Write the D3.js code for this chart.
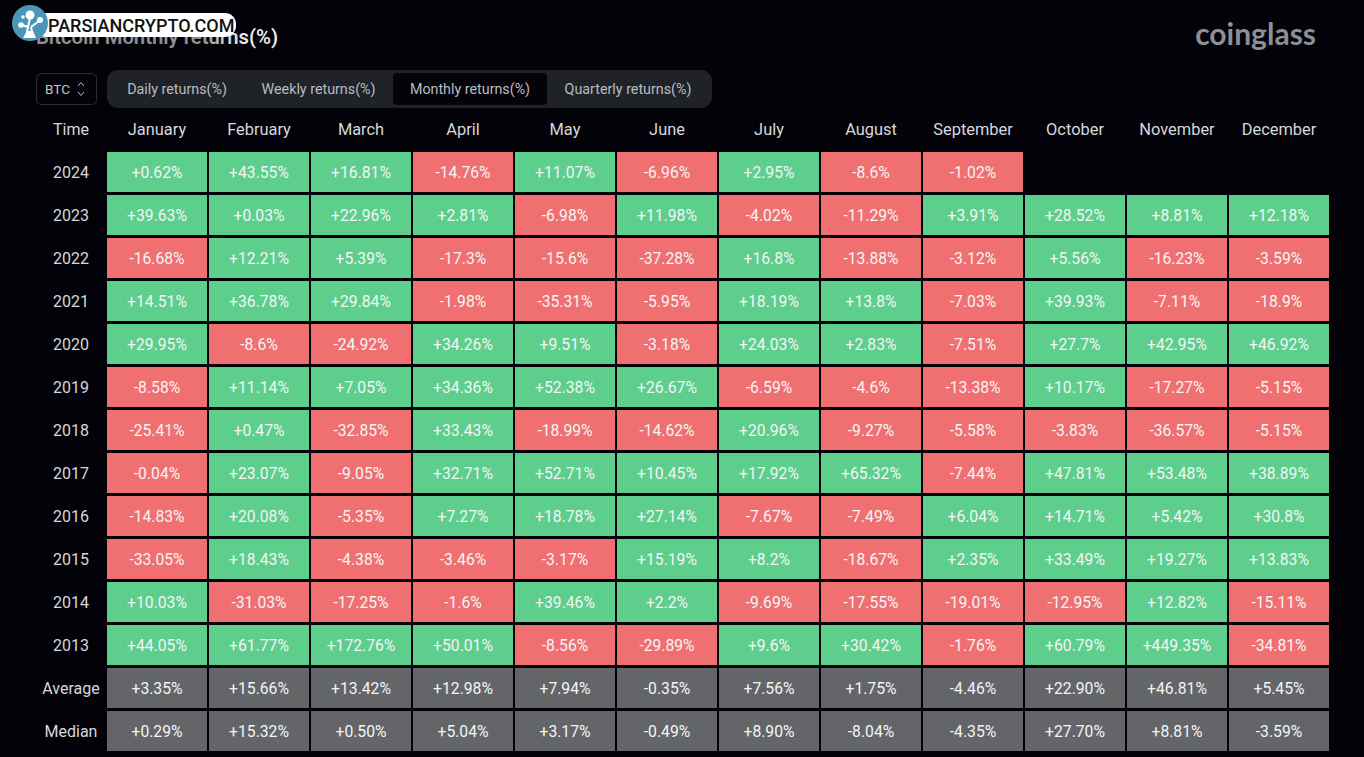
<!DOCTYPE html>
<html>
<head>
<meta charset="utf-8">
<title>Bitcoin Monthly returns(%)</title>
<script src="https://cdnjs.cloudflare.com/ajax/libs/d3/7.8.5/d3.min.js"></script>
<style>
    html, body { margin: 0; padding: 0; background: #020208; overflow: hidden; }
    svg { display: block; font-family: Roboto, sans-serif; }
    .axis .domain, .axis line { display: none; }
</style>
</head>
<body>
<script>
// data
var months = ['January', 'February', 'March', 'April', 'May', 'June', 'July', 'August', 'September', 'October', 'November', 'December'];
var rowNames = ['2024', '2023', '2022', '2021', '2020', '2019', '2018', '2017', '2016', '2015', '2014', '2013', 'Average', 'Median'];
var tabs = ['Daily returns(%)', 'Weekly returns(%)', 'Monthly returns(%)', 'Quarterly returns(%)'];

var r2024 = [0.62, 43.55, 16.81, -14.76, 11.07, -6.96, 2.95, -8.6, -1.02, null, null, null];
var r2023 = [39.63, 0.03, 22.96, 2.81, -6.98, 11.98, -4.02, -11.29, 3.91, 28.52, 8.81, 12.18];
var r2022 = [-16.68, 12.21, 5.39, -17.3, -15.6, -37.28, 16.8, -13.88, -3.12, 5.56, -16.23, -3.59];
var r2021 = [14.51, 36.78, 29.84, -1.98, -35.31, -5.95, 18.19, 13.8, -7.03, 39.93, -7.11, -18.9];
var r2020 = [29.95, -8.6, -24.92, 34.26, 9.51, -3.18, 24.03, 2.83, -7.51, 27.7, 42.95, 46.92];
var r2019 = [-8.58, 11.14, 7.05, 34.36, 52.38, 26.67, -6.59, -4.6, -13.38, 10.17, -17.27, -5.15];
var r2018 = [-25.41, 0.47, -32.85, 33.43, -18.99, -14.62, 20.96, -9.27, -5.58, -3.83, -36.57, -5.15];
var r2017 = [-0.04, 23.07, -9.05, 32.71, 52.71, 10.45, 17.92, 65.32, -7.44, 47.81, 53.48, 38.89];
var r2016 = [-14.83, 20.08, -5.35, 7.27, 18.78, 27.14, -7.67, -7.49, 6.04, 14.71, 5.42, 30.8];
var r2015 = [-33.05, 18.43, -4.38, -3.46, -3.17, 15.19, 8.2, -18.67, 2.35, 33.49, 19.27, 13.83];
var r2014 = [10.03, -31.03, -17.25, -1.6, 39.46, 2.2, -9.69, -17.55, -19.01, -12.95, 12.82, -15.11];
var r2013 = [44.05, 61.77, 172.76, 50.01, -8.56, -29.89, 9.6, 30.42, -1.76, 60.79, 449.35, -34.81];
var average = [3.35, 15.66, 13.42, 12.98, 7.94, -0.35, 7.56, 1.75, -4.46, 22.90, 46.81, 5.45];
var median = [0.29, 15.32, 0.50, 5.04, 3.17, -0.49, 8.90, -8.04, -4.35, 27.70, 8.81, -3.59];

var rows = [r2024, r2023, r2022, r2021, r2020, r2019, r2018, r2017, r2016, r2015, r2014, r2013, average, median];

// init
var width = 1364,
    height = 757;

var colors = { up: '#5dce8c', down: '#f07071', stat: '#636569', text: '#f4f5f6', head: '#d5d8dc' };

var svg = d3.select('body')
    .append('svg')
    .attr('width', width)
    .attr('height', height);

// scales: cells are 100x40 with 2px and 3px gaps
var xScale = d3.scaleBand().domain(months).range([107, 1329]).paddingInner(2 / 102);
var yScale = d3.scaleBand().domain(rowNames).range([152, 751]).paddingInner(3 / 43);

/**
 * format a cell value, summary rows keep two decimals
 */
function formatValue(v, name) {
    var s = (name === 'Average' || name === 'Median') ? v.toFixed(2) : String(v);
    return (v >= 0 ? '+' : '') + s + '%';
}

function cellColor(name, v) {
    if (name === 'Average' || name === 'Median') return colors.stat;
    return v >= 0 ? colors.up : colors.down;
}

/**
 * draw title and logo text
 */
function drawHeader() {
    // the title fades to grey where the watermark sits on it
    var grad = svg.append('defs').append('linearGradient')
        .attr('id', 'title-fade')
        .attr('gradientUnits', 'userSpaceOnUse')
        .attr('x1', 200).attr('x2', 245).attr('y1', 0).attr('y2', 0);
    grad.append('stop').attr('offset', 0).attr('stop-color', '#8f9093');
    grad.append('stop').attr('offset', 1).attr('stop-color', '#eceded');

    svg.append('text')
        .attr('x', 36).attr('y', 44)
        .attr('font-size', 20.3).attr('font-weight', 600)
        .attr('fill', 'url(#title-fade)')
        .text('Bitcoin Monthly returns(%)');

    svg.append('text')
        .attr('x', 1316).attr('y', 45)
        .attr('text-anchor', 'end')
        .attr('font-family', 'Lato, sans-serif')
        .attr('font-size', 30).attr('font-weight', 700)
        .attr('fill', '#8b9097')
        .text('coinglass');
}

/**
 * draw watermark on top of the title
 */
function drawWatermark() {
    var g = svg.append('g');
    g.append('rect')
        .attr('x', 36).attr('y', 13).attr('width', 200).attr('height', 24).attr('rx', 11)
        .attr('fill', '#fff');
    g.append('text')
        .attr('x', 48).attr('y', 32)
        .attr('font-family', 'Roboto, sans-serif')
        .attr('font-size', 18).attr('font-weight', 500)
        .attr('fill', '#111')
        .text('PARSIANCRYPTO.COM');
    g.append('circle').attr('cx', 30).attr('cy', 23).attr('r', 18).attr('fill', '#4a96b8');
    // little tree inside the circle
    g.append('path')
        .attr('d', 'M26 37 L28 27 L22 25 M28 27 L30 18 M31 27 L39 21 M33 37 L31 27')
        .attr('stroke', '#fff').attr('stroke-width', 2).attr('fill', 'none');
    g.append('path').attr('d', 'M23 38 L36 38 L33 31 L27 31 Z').attr('fill', '#fff');
    [[30, 15, 4.5], [40, 20, 3], [21, 25, 2.8], [23, 17, 1.8]].forEach(function (c) {
        g.append('circle').attr('cx', c[0]).attr('cy', c[1]).attr('r', c[2]).attr('fill', '#fff');
    });
}

/**
 * draw coin select and tabs
 */
function drawControls() {
    svg.append('rect')
        .attr('x', 36.5).attr('y', 73.5).attr('width', 60).attr('height', 31).attr('rx', 5)
        .attr('fill', 'none').attr('stroke', '#2b2e33');
    svg.append('text')
        .attr('x', 45).attr('y', 94)
        .attr('font-size', 13.6).attr('fill', '#c3c6ca')
        .text('BTC');
    svg.append('path')
        .attr('d', 'M78 86 L81 82.5 L84 86 M78 92 L81 95.5 L84 92')
        .attr('fill', 'none').attr('stroke', '#b5b8bc').attr('stroke-width', 1);

    svg.append('rect')
        .attr('x', 107).attr('y', 70).attr('width', 605).attr('height', 38).attr('rx', 11)
        .attr('fill', '#1f2227');
    svg.append('rect')
        .attr('x', 393).attr('y', 73).attr('width', 154).attr('height', 32).attr('rx', 4)
        .attr('fill', '#030308');

    var tabX = d3.scaleOrdinal().domain(tabs).range([177, 318.5, 470, 628]);
    svg.append('g')
        .selectAll('text')
        .data(tabs)
        .join('text')
        .attr('x', function (d) { return tabX(d); })
        .attr('y', 94)
        .attr('text-anchor', 'middle')
        .attr('font-size', 14.3)
        .attr('fill', '#b9bcc1')
        .text(function (d) { return d; });
}

/**
 * draw month and row headers
 */
function drawAxes() {
    var topAxis = d3.axisTop(xScale).tickSize(0).tickPadding(0);
    svg.append('g')
        .attr('class', 'axis axis-top')
        .attr('transform', 'translate(0,134.5)')
        .call(topAxis);
    var leftAxis = d3.axisLeft(yScale).tickSize(0).tickPadding(0);
    var gLeft = svg.append('g')
        .attr('class', 'axis axis-left')
        .attr('transform', 'translate(71,0.5)')
        .call(leftAxis);
    gLeft.selectAll('text').attr('text-anchor', 'middle');
    svg.selectAll('.axis text')
        .attr('font-family', 'Roboto, sans-serif')
        .attr('fill', colors.head);
    svg.selectAll('.axis-top text').attr('font-size', 16.4).attr('dy', 0);
    gLeft.selectAll('text').attr('font-size', 16);

    svg.append('text')
        .attr('x', 71).attr('y', 134.5)
        .attr('text-anchor', 'middle')
        .attr('font-size', 16)
        .attr('fill', colors.head)
        .text('Time');
}

/**
 * draw cells
 */
function drawCells() {
    var rowGroups = svg.append('g')
        .selectAll('g')
        .data(rows)
        .join('g')
        .attr('transform', function (d, i) { return 'translate(0,' + yScale(rowNames[i]) + ')'; });

    var cells = rowGroups.selectAll('g')
        .data(function (d, i) {
            return d.map(function (v, j) { return { name: rowNames[i], month: months[j], value: v }; })
                .filter(function (c) { return c.value !== null; });
        })
        .join('g')
        .attr('transform', function (d) { return 'translate(' + xScale(d.month) + ',0)'; });

    cells.append('rect')
        .attr('width', xScale.bandwidth())
        .attr('height', yScale.bandwidth())
        .attr('fill', function (d) { return cellColor(d.name, d.value); });

    cells.append('text')
        .attr('x', xScale.bandwidth() / 2)
        .attr('y', yScale.bandwidth() / 2 + 5.5)
        .attr('text-anchor', 'middle')
        .attr('font-size', 15.7)
        .attr('fill', colors.text)
        .text(function (d) { return formatValue(d.value, d.name); });
}

drawHeader();
drawControls();
drawAxes();
drawCells();
drawWatermark();
</script>
</body>
</html>
